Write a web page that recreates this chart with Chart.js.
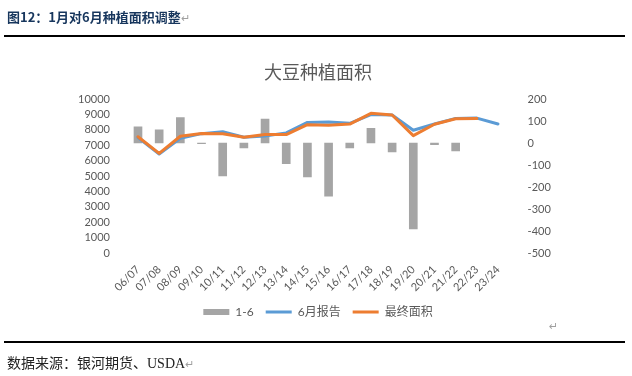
<!DOCTYPE html>
<html>
<head>
<meta charset="utf-8">
<script src="https://cdn.jsdelivr.net/npm/chart.js@4.4.1/dist/chart.umd.min.js"></script>
<style>
  html, body { margin: 0; padding: 0; background: #fff; }
  #wrap { position: relative; width: 632px; height: 376px; overflow: hidden; }
  #c { position: absolute; left: 0; top: 0; }
  .hdr { position: absolute; left: 7px; top: 8px; font: bold 13px "Noto Sans CJK SC", sans-serif; color: #17365D; white-space: nowrap; line-height: 18px; }
  .ret { color: #a0a0a0; font-weight: normal; font-size: 11px; }
  .rule { position: absolute; left: 4px; width: 621px; height: 2px; background: #000; }
  .ftr { position: absolute; left: 7px; top: 354px; font: 14px "Liberation Serif", "Noto Sans CJK SC", serif; color: #222; white-space: nowrap; line-height: 20px; }
  .ret2 { position: absolute; left: 549px; top: 320px; color: #a0a0a0; font: 11px "DejaVu Sans", sans-serif; }
</style>
</head>
<body>
<div id="wrap">
  <canvas id="c" width="632" height="376"></canvas>
  <div class="hdr">图12：1月对6月种植面积调整<span class="ret">↵</span></div>
  <div class="rule" style="top:35px"></div>
  <div class="ret2">↵</div>
  <div class="rule" style="top:341px"></div>
  <div class="ftr">数据来源：银河期货、USDA<span class="ret">↵</span></div>
</div>
<script>
const categories = ["06/07","07/08","08/09","09/10","10/11","11/12","12/13","13/14","14/15","15/16","16/17","17/18","18/19","19/20","20/21","21/22","22/23","23/24"];
const adjustment = [74, 60, 115, -3, -150, -22, 109, -94, -154, -242, -22, 67, -40, -390, -8, -36, null, null];
const juneReport = [7500, 6430, 7450, 7750, 7880, 7520, 7600, 7800, 8480, 8510, 8420, 8990, 8960, 7970, 8380, 8740, 8760, 8380];
const finalArea  = [7550, 6470, 7580, 7760, 7750, 7510, 7700, 7690, 8330, 8290, 8370, 9070, 8960, 7620, 8360, 8720, 8740, null];
const leftTicks = [0,1000,2000,3000,4000,5000,6000,7000,8000,9000,10000];
const rightTicks = [-500,-400,-300,-200,-100,0,100,200];

const tickFont = { family: "Lato, 'Noto Sans CJK SC', sans-serif", size: 11 };
const txt = '#595959';

new Chart(document.getElementById('c'), {
  data: {
    labels: categories,
    datasets: [
      { type: 'bar', label: '1-6', data: adjustment, yAxisID: 'y1', backgroundColor: '#A5A5A5', borderWidth: 0, barThickness: 8, order: 3, pointStyle: 'rect' },
      { type: 'line', label: '6月报告', data: juneReport, yAxisID: 'y', borderColor: '#5B9BD5', backgroundColor: '#5B9BD5', borderWidth: 3, pointRadius: 0, tension: 0, order: 2, pointStyle: 'line', borderCapStyle: 'round', borderJoinStyle: 'round' },
      { type: 'line', label: '最终面积', data: finalArea, yAxisID: 'y', borderColor: '#ED7D31', backgroundColor: '#ED7D31', borderWidth: 3, pointRadius: 0, tension: 0, order: 1, pointStyle: 'line', borderCapStyle: 'round', borderJoinStyle: 'round' }
    ]
  },
  options: {
    responsive: false,
    animation: false,
    layout: { padding: { top: 61, left: 67.4, right: 63.4, bottom: 48 } },
    plugins: {
      title: { display: true, text: '大豆种植面积', color: txt, font: { family: "'Noto Sans CJK SC', sans-serif", size: 18, weight: 'normal', lineHeight: 1.2 }, padding: { top: 0, bottom: 16.4 } },
      legend: { position: 'bottom', labels: { usePointStyle: true, pointStyleWidth: 26, boxHeight: 6, color: txt, padding: 12, sort: (a, b) => a.datasetIndex - b.datasetIndex, font: { family: "Lato, 'Noto Sans CJK SC', sans-serif", size: 12 } } },
      tooltip: { enabled: false }
    },
    scales: {
      x: {
        grid: { display: false }, border: { display: false },
        ticks: { color: txt, font: tickFont, minRotation: 45, maxRotation: 45, autoSkip: false, padding: 2 },
        afterFit: s => { s.height = 41; }
      },
      y: {
        position: 'left', min: 0, max: 10000,
        grid: { display: false }, border: { display: false },
        afterBuildTicks: s => { s.ticks = leftTicks.map(v => ({ value: v })); },
        ticks: { color: txt, font: tickFont, padding: 9.4, autoSkip: false, callback: v => String(v) },
        afterFit: s => { s.width = 60; }
      },
      y1: {
        position: 'right', min: -500, max: 200,
        grid: { display: false }, border: { display: false },
        afterBuildTicks: s => { s.ticks = rightTicks.map(v => ({ value: v })); },
        ticks: { color: txt, font: tickFont, padding: 11, autoSkip: false, callback: v => String(v) },
        afterFit: s => { s.width = 60; }
      }
    }
  }
});
</script>
</body>
</html>
